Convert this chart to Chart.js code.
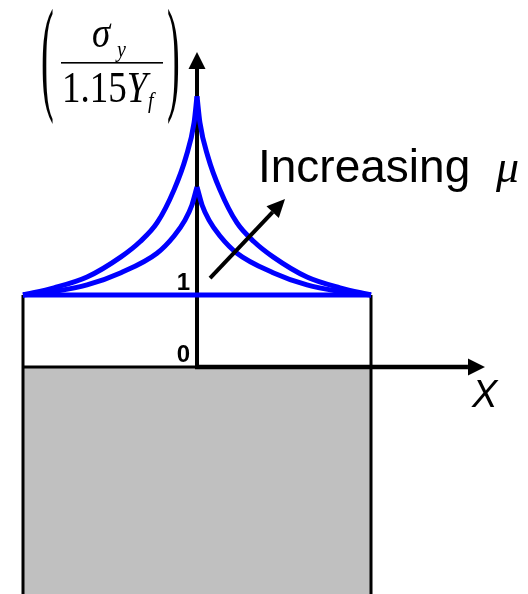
<!DOCTYPE html>
<html>
<head>
<meta charset="utf-8">
<script src="https://cdn.jsdelivr.net/npm/chart.js@4.4.1/dist/chart.umd.min.js"></script>
<style>
  html, body { margin: 0; padding: 0; background: #fff; }
  #chart { display: block; }
</style>
</head>
<body>
<canvas id="chart" width="528" height="594"></canvas>
<script>
// friction hill, distance from the centre as a fraction of the half width
const outerX = [0, 0.017, 0.063, 0.132, 0.230, 0.328, 0.437, 0.632, 0.822, 1.0];
const outerY = [3.76, 3.39, 2.92, 2.46, 2.00, 1.74, 1.53, 1.25, 1.10, 1.0];
const innerX = [0, 0.029, 0.069, 0.132, 0.230, 0.437, 0.632, 0.805, 1.0];
const innerY = [2.50, 2.25, 2.04, 1.82, 1.58, 1.31, 1.14, 1.056, 1.0];
// sticking-free level (sigma / 1.15Yf = 1) across the block
const flatX = [-1, 1];
const flatY = [1, 1];
const yTickValues = [0, 1];
const yTickLabels = ["0", "1"];

const BLUE = "#0000ff";
const X_MIN = -1.1322, X_MAX = 1.9023;
const Y_MIN = -3.1528, Y_MAX = 5.0972;

function half(xs, ys, sign) {
  const pts = xs.map((x, i) => ({ x: sign * x, y: ys[i] }));
  return sign < 0 ? pts.reverse() : pts;
}

function curve(data) {
  return {
    data: data,
    showLine: true,
    borderColor: BLUE,
    borderWidth: 5,
    borderJoinStyle: "round",
    pointRadius: 0,
    cubicInterpolationMode: "monotone",
    fill: false,
    order: 0,
  };
}

function edge(label, x, order) {
  return {
    label: label,
    data: [{ x: x, y: 1 }, { x: x, y: Y_MIN }],
    showLine: true,
    borderColor: "#000",
    borderWidth: 3,
    pointRadius: 0,
    fill: false,
    order: order,
  };
}

function arrow(ctx, x1, y1, x2, y2, width, headLen, headWidth) {
  const a = Math.atan2(y2 - y1, x2 - x1);
  const bx = x2 - headLen * Math.cos(a);
  const by = y2 - headLen * Math.sin(a);
  ctx.save();
  ctx.strokeStyle = "#000";
  ctx.fillStyle = "#000";
  ctx.lineWidth = width;
  ctx.beginPath();
  ctx.moveTo(x1, y1);
  ctx.lineTo(bx, by);
  ctx.stroke();
  ctx.beginPath();
  ctx.moveTo(x2, y2);
  ctx.lineTo(bx + (headWidth / 2) * Math.sin(a), by - (headWidth / 2) * Math.cos(a));
  ctx.lineTo(bx - (headWidth / 2) * Math.sin(a), by + (headWidth / 2) * Math.cos(a));
  ctx.closePath();
  ctx.fill();
  ctx.restore();
}

// coordinate axes, drawn over the block but under the blue curves
const axesPlugin = {
  id: "axes",
  afterDatasetDraw(chart, args) {
    if (chart.data.datasets[args.index].label !== "left edge") return;
    const ctx = chart.ctx;
    const xs = chart.scales.x, ys = chart.scales.y;
    const ox = xs.getPixelForValue(0), oy = ys.getPixelForValue(0);
    arrow(ctx, ox, oy + 2, ox, ys.getPixelForValue(4.375), 4, 17, 17);
    arrow(ctx, ox - 2, oy, xs.getPixelForValue(1.655), oy, 4.5, 17, 17);
  },
  afterDraw(chart) {
    const ctx = chart.ctx;
    const xs = chart.scales.x, ys = chart.scales.y;
    const ox = xs.getPixelForValue(0);
    ctx.save();
    ctx.fillStyle = "#000";

    // tick labels
    ctx.font = "bold 24px 'Liberation Sans', Arial, sans-serif";
    ctx.textAlign = "right";
    ctx.textBaseline = "alphabetic";
    yTickValues.forEach((v, i) => {
      ctx.fillText(yTickLabels[i], ox - 7, ys.getPixelForValue(v) - 5);
    });

    // "Increasing mu" arrow and label
    arrow(ctx, xs.getPixelForValue(0.075), ys.getPixelForValue(1.236),
      xs.getPixelForValue(0.506), ys.getPixelForValue(2.333), 4, 18, 17);
    ctx.textAlign = "left";
    ctx.font = "46px 'Liberation Sans', Arial, sans-serif";
    ctx.fillText("Increasing", 258, 182);
    ctx.font = "italic 46px 'Liberation Serif', 'Times New Roman', serif";
    ctx.fillText("\u03bc", 496, 182);

    // x axis name
    ctx.font = "italic 38px 'Liberation Sans', Arial, sans-serif";
    ctx.fillText("X", 472, 407);

    // y axis name: (sigma_y / 1.15 Y_f)
    ctx.fillRect(61, 62, 102, 1.6);
    ctx.save();
    ctx.scale(1, 1.2);
    ctx.font = "italic 37px 'Liberation Serif', 'Times New Roman', serif";
    ctx.fillText("\u03c3", 92, 47 / 1.2);
    ctx.font = "italic 20px 'Liberation Serif', 'Times New Roman', serif";
    ctx.fillText("y", 117, 57 / 1.2);
    ctx.font = "37px 'Liberation Serif', 'Times New Roman', serif";
    ctx.fillText("1.15", 62, 102 / 1.2);
    const w = ctx.measureText("1.15").width;
    ctx.font = "italic 37px 'Liberation Serif', 'Times New Roman', serif";
    ctx.fillText("Y", 62 + w, 102 / 1.2);
    ctx.font = "italic 20px 'Liberation Serif', 'Times New Roman', serif";
    ctx.fillText("f", 148, 108 / 1.2);
    ctx.restore();

    ctx.save();
    ctx.scale(0.3, 1);
    ctx.font = "128px 'Liberation Serif', 'Times New Roman', serif";
    ctx.fillText("(", 41 / 0.3, 97);
    ctx.fillText(")", 167 / 0.3, 97);
    ctx.restore();

    ctx.restore();
  },
};

new Chart(document.getElementById("chart"), {
  type: "scatter",
  data: {
    datasets: [
      curve(half(outerX, outerY, 1)),
      curve(half(outerX, outerY, -1)),
      curve(half(innerX, innerY, 1)),
      curve(half(innerX, innerY, -1)),
      curve(flatX.map((x, i) => ({ x: x, y: flatY[i] }))),
      edge("left edge", -1, 1),
      edge("right edge", 1, 1.5),
      {
        label: "block",
        data: [{ x: -1, y: 0 }, { x: 1, y: 0 }],
        showLine: true,
        borderColor: "#000",
        borderWidth: 3,
        backgroundColor: "#c0c0c0",
        pointRadius: 0,
        fill: "start",
        order: 2,
      },
    ],
  },
  options: {
    responsive: false,
    animation: false,
    devicePixelRatio: 1,
    events: [],
    layout: { padding: 0 },
    plugins: { legend: { display: false }, tooltip: { enabled: false } },
    scales: {
      x: { type: "linear", display: false, min: X_MIN, max: X_MAX },
      y: { type: "linear", display: false, min: Y_MIN, max: Y_MAX },
    },
  },
  plugins: [axesPlugin],
});
</script>
</body>
</html>
